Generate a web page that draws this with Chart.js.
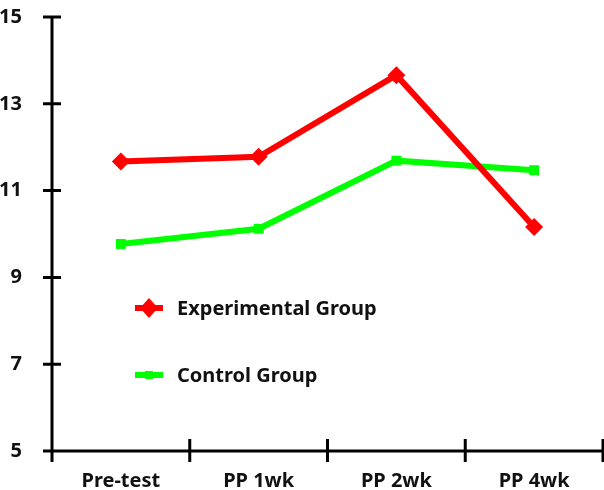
<!DOCTYPE html>
<html>
<head>
<meta charset="utf-8">
<script src="https://cdn.jsdelivr.net/npm/chart.js@4"></script>
<style>
  html, body { margin: 0; padding: 0; background: #fff; }
  #wrap { width: 604px; height: 490px; }
</style>
</head>
<body>
<div id="wrap"><canvas id="myChart"></canvas></div>
<script>
const categories = ['Pre-test', 'PP 1wk', 'PP 2wk', 'PP 4wk'];
const experimental = [11.67, 11.78, 13.66, 10.16];
const control = [9.77, 10.12, 11.69, 11.47];
const yTicks = [5, 7, 9, 11, 13, 15];

const FONT = "'Noto Sans', 'DejaVu Sans', sans-serif";

// axes with ticks crossing the line, plus the legend inside the plot
const axesAndLegend = {
  id: 'axesAndLegend',
  afterDraw(chart) {
    const ctx = chart.ctx;
    const x = chart.scales.x, y = chart.scales.y;
    const left = chart.chartArea.left, bottom = chart.chartArea.bottom;
    ctx.save();
    ctx.strokeStyle = '#000';
    ctx.lineWidth = 3;
    ctx.lineCap = 'butt';
    ctx.beginPath();
    ctx.moveTo(left, y.getPixelForValue(15) - 1);
    ctx.lineTo(left, bottom + 1);
    ctx.moveTo(left - 9, bottom);
    ctx.lineTo(chart.chartArea.right, bottom);
    yTicks.forEach(v => {
      const py = y.getPixelForValue(v);
      ctx.moveTo(left - 9, py);
      ctx.lineTo(left + 9, py);
    });
    for (let i = 0; i <= categories.length; i++) {
      const px = x.getPixelForValue(i - 0.5);
      ctx.moveTo(px, bottom - 12);
      ctx.lineTo(px, bottom + 11);
    }
    ctx.stroke();

    // legend
    const rows = [308, 375];
    chart.data.datasets.forEach((ds, i) => {
      const ly = rows[i];
      ctx.strokeStyle = ds.borderColor;
      ctx.fillStyle = ds.borderColor;
      ctx.lineWidth = 6;
      ctx.beginPath();
      ctx.moveTo(135, ly);
      ctx.lineTo(163, ly);
      ctx.stroke();
      ctx.beginPath();
      if (ds.pointStyle === 'rectRot') {
        ctx.moveTo(149, ly - 10);
        ctx.lineTo(158, ly);
        ctx.lineTo(149, ly + 10);
        ctx.lineTo(140, ly);
      } else {
        ctx.rect(145, ly - 4, 8, 8);
      }
      ctx.closePath();
      ctx.fill();
      ctx.fillStyle = '#111';
      ctx.font = 'bold 20px ' + FONT;
      ctx.textBaseline = 'middle';
      ctx.textAlign = 'left';
      ctx.fillText(ds.label, 177, ly + 1);
    });
    ctx.restore();
  }
};

new Chart(document.getElementById('myChart'), {
  type: 'line',
  data: {
    labels: categories,
    datasets: [
      {
        label: 'Experimental Group',
        data: experimental,
        borderColor: '#ff0000',
        backgroundColor: '#ff0000',
        borderWidth: 6,
        pointStyle: 'rectRot',
        pointRadius: 9,
        pointBorderWidth: 0,
        tension: 0
      },
      {
        label: 'Control Group',
        data: control,
        borderColor: '#00ff00',
        backgroundColor: '#00ff00',
        borderWidth: 6,
        pointStyle: 'rect',
        pointRadius: 7,
        pointBorderWidth: 0,
        tension: 0
      }
    ]
  },
  options: {
    animation: false,
    responsive: true,
    maintainAspectRatio: false,
    layout: {
      autoPadding: false,
      padding: { top: 17, right: 1, left: 0, bottom: 0 }
    },
    plugins: {
      legend: { display: false },
      tooltip: { enabled: false },
      title: { display: false }
    },
    scales: {
      x: {
        offset: true,
        grid: { display: false },
        border: { display: false },
        ticks: {
          color: '#111',
          font: { family: FONT, size: 20, weight: 'bold' },
          padding: 10,
          maxRotation: 0
        },
        afterFit(scale) {
          scale.height = 39;
          scale.paddingLeft = 0;
          scale.paddingRight = 0;
        }
      },
      y: {
        min: 5,
        max: 15,
        grid: { display: false },
        border: { display: false },
        ticks: {
          stepSize: 2,
          color: '#111',
          font: { family: FONT, size: 20, weight: 'bold' },
          padding: 22
        },
        afterFit(scale) {
          scale.width = 52;
          scale.paddingTop = 0;
          scale.paddingBottom = 0;
        }
      }
    }
  },
  plugins: [axesAndLegend]
});
</script>
</body>
</html>
